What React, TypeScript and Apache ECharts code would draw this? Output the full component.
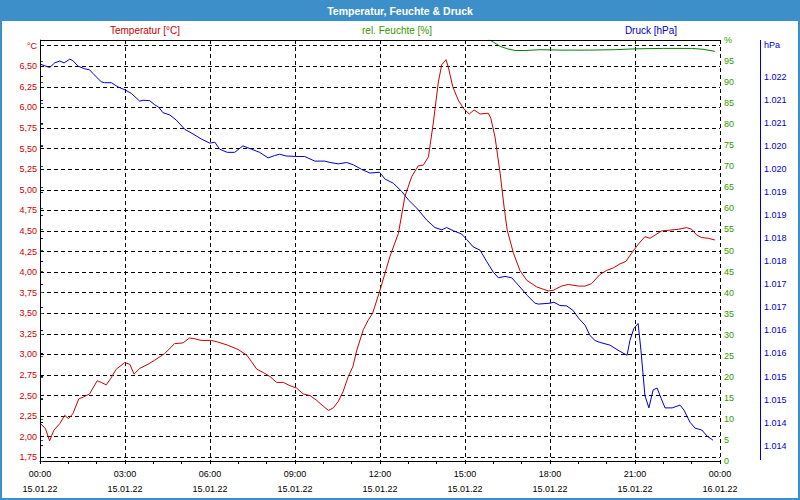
import React, { useEffect, useRef } from "react";
import * as echarts from "echarts";

const xTickTimes = ["00:00", "03:00", "06:00", "09:00", "12:00", "15:00", "18:00", "21:00", "00:00"];
const xTickDates = ["15.01.22", "15.01.22", "15.01.22", "15.01.22", "15.01.22", "15.01.22", "15.01.22", "15.01.22", "16.01.22"];
const pressureTickLabels = ["1.014", "1.014", "1.015", "1.015", "1.016", "1.016", "1.017", "1.017", "1.018", "1.018", "1.019", "1.019", "1.020", "1.020", "1.021", "1.021", "1.022"];

const tempHours = [0.02, 0.19, 0.34, 0.49, 0.7, 0.87, 1.01, 1.16, 1.37, 1.52, 1.75, 2.02, 2.16, 2.34, 2.5, 2.69, 2.99, 3.17, 3.32, 3.52, 3.81, 4.05, 4.4, 4.75, 5.05, 5.28, 5.46, 5.69, 6.05, 6.28, 6.64, 6.99, 7.3, 7.47, 7.65, 7.88, 8.12, 8.35, 8.59, 8.82, 9.06, 9.29, 9.53, 9.77, 10.0, 10.18, 10.35, 10.53, 10.7, 10.88, 11.04, 11.18, 11.41, 11.59, 11.74, 12.0, 12.35, 12.65, 12.88, 13.12, 13.35, 13.53, 13.71, 13.88, 14.06, 14.18, 14.33, 14.41, 14.57, 14.76, 14.94, 15.15, 15.32, 15.53, 15.82, 15.91, 16.06, 16.24, 16.38, 16.49, 16.71, 16.94, 17.18, 17.53, 17.94, 18.12, 18.41, 18.65, 19.0, 19.24, 19.47, 19.76, 20.0, 20.23, 20.47, 20.68, 20.88, 21.12, 21.35, 21.53, 21.71, 21.94, 22.24, 22.53, 22.82, 23.0, 23.18, 23.35, 23.59, 23.82];
const tempValues = [2.16, 2.1, 1.95, 2.08, 2.16, 2.26, 2.22, 2.28, 2.46, 2.48, 2.52, 2.68, 2.66, 2.63, 2.71, 2.82, 2.9, 2.88, 2.76, 2.83, 2.88, 2.93, 3.01, 3.13, 3.14, 3.2, 3.19, 3.17, 3.17, 3.15, 3.11, 3.06, 2.99, 2.91, 2.82, 2.78, 2.73, 2.66, 2.66, 2.62, 2.59, 2.52, 2.5, 2.44, 2.37, 2.32, 2.35, 2.43, 2.55, 2.73, 2.85, 3.05, 3.3, 3.42, 3.5, 3.78, 4.19, 4.47, 4.92, 5.16, 5.29, 5.3, 5.4, 5.81, 6.31, 6.52, 6.58, 6.49, 6.25, 6.09, 5.99, 5.92, 5.97, 5.92, 5.93, 5.87, 5.64, 5.2, 4.79, 4.51, 4.23, 4.02, 3.9, 3.82, 3.77, 3.78, 3.83, 3.85, 3.83, 3.83, 3.86, 3.97, 4.02, 4.05, 4.1, 4.13, 4.23, 4.34, 4.43, 4.41, 4.45, 4.5, 4.51, 4.52, 4.54, 4.52, 4.45, 4.42, 4.41, 4.39];

const humidityHours = [15.87, 16.0, 16.24, 16.5, 16.77, 17.12, 17.65, 18.35, 19.4, 20.3, 21.0, 22.0, 23.0, 23.4, 23.82];
const humidityValues = [100, 99.5, 98.5, 97.9, 97.5, 97.5, 97.7, 97.6, 97.6, 97.7, 97.9, 98.0, 98.0, 97.8, 97.3];

const pressureHours = [0.02, 0.34, 0.52, 0.7, 0.85, 1.05, 1.16, 1.34, 1.58, 1.75, 1.87, 2.16, 2.28, 2.52, 2.75, 3.01, 3.22, 3.52, 3.64, 3.87, 4.05, 4.19, 4.34, 4.58, 4.81, 5.11, 5.4, 5.69, 5.99, 6.17, 6.34, 6.61, 6.87, 7.16, 7.46, 7.75, 8.05, 8.28, 8.46, 8.69, 9.11, 9.34, 9.7, 10.05, 10.24, 10.53, 10.82, 11.06, 11.35, 11.65, 11.98, 12.18, 12.47, 12.77, 13.0, 13.3, 13.65, 13.94, 14.18, 14.35, 14.59, 14.88, 15.06, 15.29, 15.53, 15.77, 16.0, 16.18, 16.41, 16.65, 16.94, 17.21, 17.47, 17.59, 18.0, 18.14, 18.35, 18.59, 18.82, 19.0, 19.24, 19.41, 19.59, 19.76, 20.12, 20.4, 20.72, 20.82, 20.96, 21.11, 21.21, 21.35, 21.49, 21.64, 21.78, 21.92, 22.06, 22.31, 22.59, 22.73, 22.94, 23.12, 23.36, 23.54, 23.75];
const pressureValues = [1022.02, 1021.95, 1022.05, 1022.09, 1022.05, 1022.13, 1022.1, 1021.98, 1021.92, 1021.9, 1021.82, 1021.64, 1021.62, 1021.62, 1021.53, 1021.46, 1021.39, 1021.22, 1021.24, 1021.23, 1021.14, 1021.09, 1020.97, 1020.92, 1020.81, 1020.61, 1020.51, 1020.4, 1020.31, 1020.33, 1020.18, 1020.11, 1020.11, 1020.25, 1020.18, 1020.11, 1019.99, 1020.04, 1020.07, 1020.03, 1020.02, 1020.02, 1019.92, 1019.92, 1019.89, 1019.86, 1019.89, 1019.84, 1019.74, 1019.66, 1019.68, 1019.53, 1019.44, 1019.26, 1019.08, 1018.9, 1018.64, 1018.48, 1018.43, 1018.48, 1018.41, 1018.34, 1018.22, 1018.06, 1017.99, 1017.74, 1017.51, 1017.39, 1017.42, 1017.39, 1017.19, 1017.0, 1016.84, 1016.82, 1016.84, 1016.86, 1016.79, 1016.78, 1016.68, 1016.52, 1016.36, 1016.14, 1016.03, 1015.99, 1015.93, 1015.82, 1015.71, 1016.03, 1016.29, 1016.4, 1015.82, 1014.84, 1014.57, 1014.96, 1015.0, 1014.78, 1014.57, 1014.57, 1014.63, 1014.52, 1014.26, 1014.13, 1014.09, 1013.96, 1013.87];

const RED = "#cc0000";
const GREEN = "#008000";
const GREEN_TXT = "#339900";
const BLUE = "#0000cc";
const FRAME_BLUE = "#3d8fca";
const FONT = '"Liberation Sans", Arial, sans-serif';

function zip(xs: number[], ys: number[]) {
  return xs.map((x, i) => [x, ys[i]]);
}

export default function App() {
  const ref = useRef<HTMLDivElement>(null);
  useEffect(() => {
    if (!ref.current) return;
    const chart = echarts.init(ref.current, undefined, { renderer: "svg" });
    const dash = [4, 3];
    const option: any = {
      animation: false,
      backgroundColor: "#ffffff",
      textStyle: { fontFamily: FONT },
      grid: [
        { left: 40, right: 80, top: 40, bottom: 39 },
        { left: 40, right: 80, top: 45.7, bottom: 42.7 },
        { left: 40, right: 80, top: 76.7, bottom: 54.3 },
      ],
      xAxis: [
        {
          gridIndex: 0,
          type: "value",
          min: 0,
          max: 24,
          interval: 3,
          axisLine: { show: true, lineStyle: { color: "#000", width: 1 } },
          axisTick: { show: true, length: 3, lineStyle: { color: "#000" } },
          minorTick: { show: true, splitNumber: 3, length: 3, lineStyle: { color: "#000" } },
          splitLine: { show: true, lineStyle: { color: "#000", type: dash, width: 1 } },
          axisLabel: {
            color: "#000",
            fontSize: 9,
            fontFamily: FONT,
            lineHeight: 15,
            margin: 5,
            formatter: (v: number) => {
              const i = Math.round(v / 3);
              return xTickTimes[i] + "\n" + xTickDates[i];
            },
          },
        },
        { gridIndex: 1, type: "value", min: 0, max: 24, show: false },
        { gridIndex: 2, type: "value", min: 0, max: 24, show: false },
      ],
      yAxis: [
        {
          gridIndex: 0,
          type: "value",
          position: "right",
          min: 0,
          max: 100,
          interval: 5,
          axisLine: { show: true, lineStyle: { color: GREEN, width: 1 } },
          axisTick: { show: true, length: 3, lineStyle: { color: GREEN } },
          splitLine: { show: false },
          axisLabel: {
            color: GREEN_TXT,
            fontSize: 9,
            fontFamily: FONT,
            margin: 4,
            formatter: (v: number) => (v >= 100 ? "%" : String(v)),
          },
        },
        {
          gridIndex: 1,
          type: "value",
          position: "left",
          min: 1.75,
          max: 6.75,
          interval: 0.25,
          axisLine: { show: false },
          axisTick: { show: false },
          splitLine: { show: true, lineStyle: { color: "#000", type: dash, width: 1 } },
          axisLabel: {
            color: RED,
            fontSize: 9,
            fontFamily: FONT,
            margin: 3,
            formatter: (v: number) => (v >= 6.74 ? "°C" : v.toFixed(2).replace(".", ",")),
          },
        },
        {
          gridIndex: 2,
          type: "value",
          position: "right",
          offset: 40,
          min: 1013.75,
          max: 1021.75,
          interval: 0.5,
          axisLine: { show: false },
          axisTick: { show: true, length: 3, lineStyle: { color: BLUE } },
          splitLine: { show: false },
          axisLabel: {
            color: BLUE,
            fontSize: 9,
            fontFamily: FONT,
            margin: 4,
            formatter: (v: number) => pressureTickLabels[Math.round((v - 1013.75) / 0.5)] ?? "",
          },
        },
      ],
      series: [
        {
          name: "Temperatur",
          type: "line",
          xAxisIndex: 1,
          yAxisIndex: 1,
          data: zip(tempHours, tempValues),
          showSymbol: false,
          symbol: "none",
          clip: false,
          lineStyle: { color: RED, width: 1 },
          z: 5,
        },
        {
          name: "rel. Feuchte",
          type: "line",
          xAxisIndex: 0,
          yAxisIndex: 0,
          data: zip(humidityHours, humidityValues),
          showSymbol: false,
          symbol: "none",
          clip: false,
          lineStyle: { color: GREEN, width: 1 },
          z: 5,
        },
        {
          name: "Druck",
          type: "line",
          xAxisIndex: 2,
          yAxisIndex: 2,
          data: zip(pressureHours, pressureValues),
          showSymbol: false,
          symbol: "none",
          clip: false,
          lineStyle: { color: BLUE, width: 1 },
          z: 5,
        },
      ],
      graphic: [
        {
          type: "rect",
          shape: { x: 0, y: 0, width: 800, height: 21 },
          style: { fill: FRAME_BLUE },
          z: 10,
        },
        {
          type: "rect",
          shape: { x: 1, y: 1, width: 798, height: 498 },
          style: { fill: "none", stroke: FRAME_BLUE, lineWidth: 2 },
          z: 10,
        },
        {
          type: "text",
          x: 400,
          y: 10.5,
          style: {
            text: "Temperatur, Feuchte & Druck",
            fill: "#ffffff",
            font: 'bold 10.5px "Liberation Sans", Arial, sans-serif',
            align: "center",
            verticalAlign: "middle",
          },
          z: 11,
        },
        {
          type: "text",
          x: 145,
          y: 30,
          style: { text: "Temperatur [°C]", fill: RED, font: '10px "Liberation Sans", Arial, sans-serif', align: "center", verticalAlign: "middle" },
        },
        {
          type: "text",
          x: 397,
          y: 30,
          style: { text: "rel. Feuchte [%]", fill: GREEN_TXT, font: '10px "Liberation Sans", Arial, sans-serif', align: "center", verticalAlign: "middle" },
        },
        {
          type: "text",
          x: 651,
          y: 30,
          style: { text: "Druck [hPa]", fill: BLUE, font: '10px "Liberation Sans", Arial, sans-serif', align: "center", verticalAlign: "middle" },
        },
        {
          type: "text",
          x: 764,
          y: 45,
          style: { text: "hPa", fill: BLUE, font: '9px "Liberation Sans", Arial, sans-serif', align: "left", verticalAlign: "middle" },
        },
        {
          type: "line",
          shape: { x1: 40, y1: 40.5, x2: 720, y2: 40.5 },
          style: { stroke: "#000", lineWidth: 1 },
          z: 6,
        },
        {
          type: "line",
          shape: { x1: 40.5, y1: 40, x2: 40.5, y2: 461 },
          style: { stroke: "#000", lineWidth: 1 },
          z: 6,
        },
        {
          type: "line",
          shape: { x1: 760.5, y1: 40, x2: 760.5, y2: 460 },
          style: { stroke: BLUE, lineWidth: 1 },
          z: 6,
        },
      ],
    };
    chart.setOption(option);
    return () => chart.dispose();
  }, []);
  return (
    <div
      ref={ref}
      style={{ position: "fixed", left: 0, top: 0, width: 800, height: 500 }}
    />
  );
}
